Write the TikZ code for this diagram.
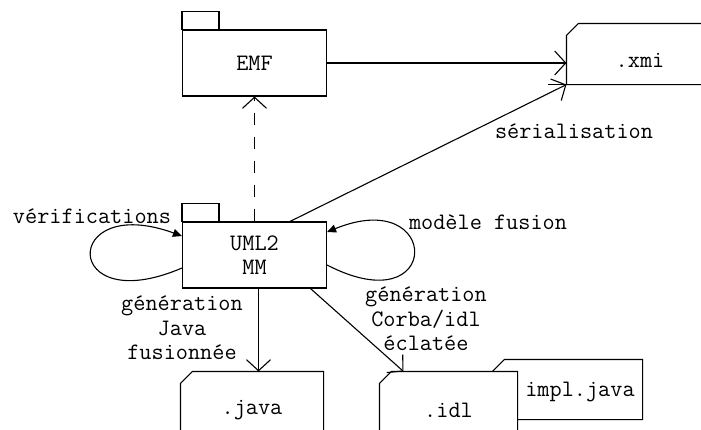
\documentclass[tikz,border=0pt]{standalone}
\usetikzlibrary{arrows.meta}
\tikzset{
  every node/.style={font=\ttfamily\fontsize{23.6}{24.5}\selectfont},
  pkg/.style={draw, minimum width=144pt, minimum height=66pt, inner sep=0pt, align=center},
  filebox/.style={rectangle, inner sep=0pt},
  flow/.style={-{Straight Barb[length=11pt,width=24pt]}},
  selfloop/.style={-{Triangle[length=9pt,width=8pt]}},
  lbl/.style={align=center},
}
% outline of a file with its corner cut off
\newcommand{\docshape}[1]{\draw[fill=white] ([yshift=-12pt]#1.north west) -- ([xshift=12pt]#1.north west)
  -- (#1.north east) -- (#1.south east) -- (#1.south west) -- cycle;}

\begin{document}
\begin{tikzpicture}[x=1pt, y=-1pt, line width=1.1pt]
  \useasboundingbox (0,0) rectangle (701,429);
  % packages with their tabs
  \node[pkg] (emf) at (254.5,63) {EMF};
  \draw (emf.north west) rectangle ++(37,-18);
  \node[pkg] (uml) at (254.5,255) {UML2\\MM};
  \draw (uml.north west) rectangle ++(37,-18);
  % generated files
  \node[filebox, minimum width=153pt, minimum height=60pt] (xmi) at (643.5,54) {};
  \docshape{xmi}
  \draw (xmi.south west) -- ++(-18,0);
  \node (xmitxt) at (640,60) {.xmi};
  \node[filebox, minimum width=142pt, minimum height=76pt] (java) at (252,410) {};
  \docshape{java}
  \node (javatxt) at (java.center) {.java};
  \node[filebox, minimum width=149pt, minimum height=59pt] (impl) at (567.5,389.5) {};
  \docshape{impl}
  \node (impltxt) at (580,392) {impl.java};
  \node[filebox, minimum width=137pt, minimum height=76pt] (idl) at (448.5,410) {};
  \docshape{idl}
  \node (idltxt) at (idl.center) {.idl};
  % labels
  \node[lbl] (verif) at (92,216) {vérifications};
  \node[lbl] (fusion) at (488,222) {modèle fusion};
  \node[lbl] (serial) at (574,131) {sérialisation};
  \node[lbl] (genjava) at (182,328) {génération\\Java\\fusionnée};
  \node[lbl] (genidl) at (426,319) {génération\\Corba/idl\\éclatée};
  % transformations
  \draw[flow] (emf.east) -- (emf.east -| xmi.west);
  \draw[flow, dash pattern=on 12pt off 12pt] (uml.north) -- (emf.south);
  \draw[flow] ([xshift=35.5pt]uml.north) -- (xmi.south west);
  \draw[flow] ([xshift=4pt]uml.south) -- ([xshift=4pt]uml.south |- java.north);
  \draw[flow] ([xshift=56pt]uml.south) -- ([xshift=-45pt]idl.north);
  % self loops
  \draw[selfloop] ([yshift=-13pt]uml.west) .. controls +(-121,52) and +(-121,-44) .. ([yshift=19pt]uml.west);
  \draw[selfloop] ([yshift=-10pt]uml.east) .. controls +(116,60) and +(115,-47) .. ([yshift=23pt]uml.east);
\end{tikzpicture}
\end{document}
